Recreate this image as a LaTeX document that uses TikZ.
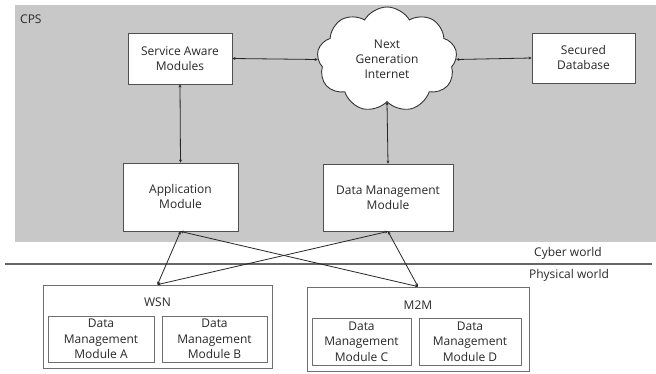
\documentclass[tikz,border=0pt]{standalone}
\usepackage{fontspec}
\setmainfont{Open Sans}
\usetikzlibrary{shapes.symbols,arrows.meta}
\definecolor{cpsgray}{RGB}{200,200,200}
\definecolor{edgegray}{RGB}{80,80,80}
\definecolor{lightedge}{RGB}{110,110,110}
\definecolor{txt}{RGB}{40,40,40}
\tikzset{
  box/.style={draw=edgegray, line width=0.9pt, fill=white, align=center, inner sep=0pt, text=txt},
  pbox/.style={draw=lightedge, line width=0.8pt, fill=white, inner sep=0pt},
  ibox/.style={draw=lightedge, line width=0.8pt, fill=white, align=center, inner sep=0pt, text=txt,
               font=\fontsize{12}{15.5}\selectfont},
  dar/.style={draw=black!85, line width=0.8pt, {Stealth[length=3pt,width=3pt]}-{Stealth[length=3pt,width=3pt]}},
  lbl/.style={text=txt, inner sep=0pt},
}
\begin{document}
\begin{tikzpicture}[x=1pt,y=-1pt, font=\fontsize{12}{15}\selectfont]
\useasboundingbox (0,0) rectangle (656,374);
\fill[cpsgray] (15,5) rectangle (656,242);
\node[lbl, anchor=west] (cps) at (20,19) {CPS};

\node[box, minimum width=104pt, minimum height=51pt] (sam) at (180,58.5) {Service Aware\\Modules};
\node[cloud, cloud puffs=9, cloud puff arc=120, aspect=1.3, draw=black!80, line width=0.9pt, fill=white,
      minimum width=140pt, minimum height=105pt, align=center, inner sep=0pt, text=txt] (cloud) at (387,59.5)
      {Next\\Generation\\Internet};
\node[box, minimum width=103pt, minimum height=50pt] (sdb) at (583.5,58) {Secured\\Database};
\node[box, minimum width=115pt, minimum height=68pt] (app) at (180.5,197) {Application\\Module};
\node[box, minimum width=130pt, minimum height=67pt] (dmm) at (388,197.5) {Data Management\\Module};

\draw[dar] (sam.east) -- (cloud.west);
\draw[dar] (cloud.east) -- (sdb.west);
\draw[dar] (sam.south) -- (app.north);
\draw[dar] (cloud.south) -- (dmm.north);

\coordinate (l0) at (5,264);
\coordinate (l1) at (652,264);
\draw[draw=black!60, line width=1.2pt] (l0) -- (l1);
\node[lbl] (cyber) at (568,253) {Cyber world};
\node[lbl] (phys) at (569,275) {Physical world};

\node[pbox, minimum width=229pt, minimum height=83pt] (wsn) at (157.5,326.5) {};
\node[lbl] (wsnl) at (157.5,302) {WSN};
\node[ibox, minimum width=106pt, minimum height=46pt] (ma) at (101,339) {Data\\Management\\Module A};
\node[ibox, minimum width=105pt, minimum height=46pt] (mb) at (214.5,339) {Data\\Management\\Module B};

\node[pbox, minimum width=222pt, minimum height=84pt] (m2m) at (418,329) {};
\node[lbl] (m2ml) at (418,305) {M2M};
\node[ibox, minimum width=99pt, minimum height=47pt] (mc) at (361.5,341.5) {Data\\Management\\Module C};
\node[ibox, minimum width=102pt, minimum height=47pt] (md) at (470,341.5) {Data\\Management\\Module D};

\draw[dar] (app.south) -- (wsn.north);
\draw[dar] (app.south) -- (m2m.north);
\draw[dar] (dmm.south) -- (wsn.north);
\draw[dar] (dmm.south) -- (m2m.north);
\end{tikzpicture}
\end{document}
